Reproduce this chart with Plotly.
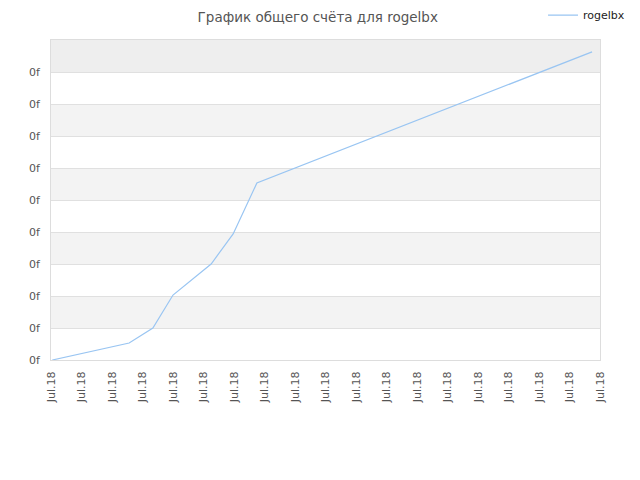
import plotly.graph_objects as go

# score history (time of each point, total score)
dates = [
    "2018-07-01 01:00", "2018-07-03 13:30", "2018-07-04 08:10", "2018-07-05 00:00",
    "2018-07-06 06:00", "2018-07-06 23:20", "2018-07-07 18:00", "2018-07-18 17:45",
]
scores = [0, 0.53, 1.0, 2.03, 3.0, 3.94, 5.53, 9.63]
y_ticks = [0, 1, 2, 3, 4, 5, 6, 7, 8, 9]
y_labels = ["0f"] * len(y_ticks)
player = "rogelbx"

font = "DejaVu Sans"

fig = go.Figure()
fig.add_trace(go.Scatter(
    x=dates, y=scores, mode="lines", name=player,
    line=dict(color="#99c5f2", width=1.2),
))

# alternating bands behind the grid
shapes = []
for lo in [1, 3, 5, 7]:
    shapes.append(dict(type="rect", xref="paper", yref="y", x0=0, x1=1, y0=lo, y1=lo + 1,
                       fillcolor="#f3f3f3", line_width=0, layer="below"))
shapes.append(dict(type="rect", xref="paper", yref="y", x0=0, x1=1, y0=9, y1=10,
                   fillcolor="#eeeeee", line_width=0, layer="below"))

# the page body adds an 8px offset, so margins are shifted to compensate
fig.update_layout(
    width=640, height=480,
    margin=dict(l=43, r=48, t=32, b=128, autoexpand=False),
    paper_bgcolor="white", plot_bgcolor="white",
    font=dict(family=font, size=11, color="#555"),
    title=dict(text="График общего счёта для " + player, x=0.484, xanchor="center",
               y=0.98, yanchor="middle", font=dict(size=13.5, color="#555")),
    showlegend=True,
    legend=dict(xref="container", yref="container", x=0.836, y=0.985,
                xanchor="left", yanchor="middle", itemwidth=30,
                font=dict(size=11, color="#222"), bgcolor="rgba(0,0,0,0)"),
    shapes=shapes,
    xaxis=dict(
        type="date", range=["2018-07-01", "2018-07-19"],
        tick0="2018-07-01", dtick=86400000, tickformat="%b.%y", tickangle=-90,
        showgrid=False, showline=True, linecolor="#ddd", mirror=True,
        ticks="", zeroline=False, automargin=False, ticklabelstandoff=6,
    ),
    yaxis=dict(
        range=[0, 10], tickvals=y_ticks, ticktext=y_labels,
        showgrid=True, gridcolor="#e0e0e0", showline=True, linecolor="#ddd", mirror=True,
        ticks="", zeroline=False, ticklabelstandoff=8, automargin=False,
    ),
)

fig.write_html("out.html")
